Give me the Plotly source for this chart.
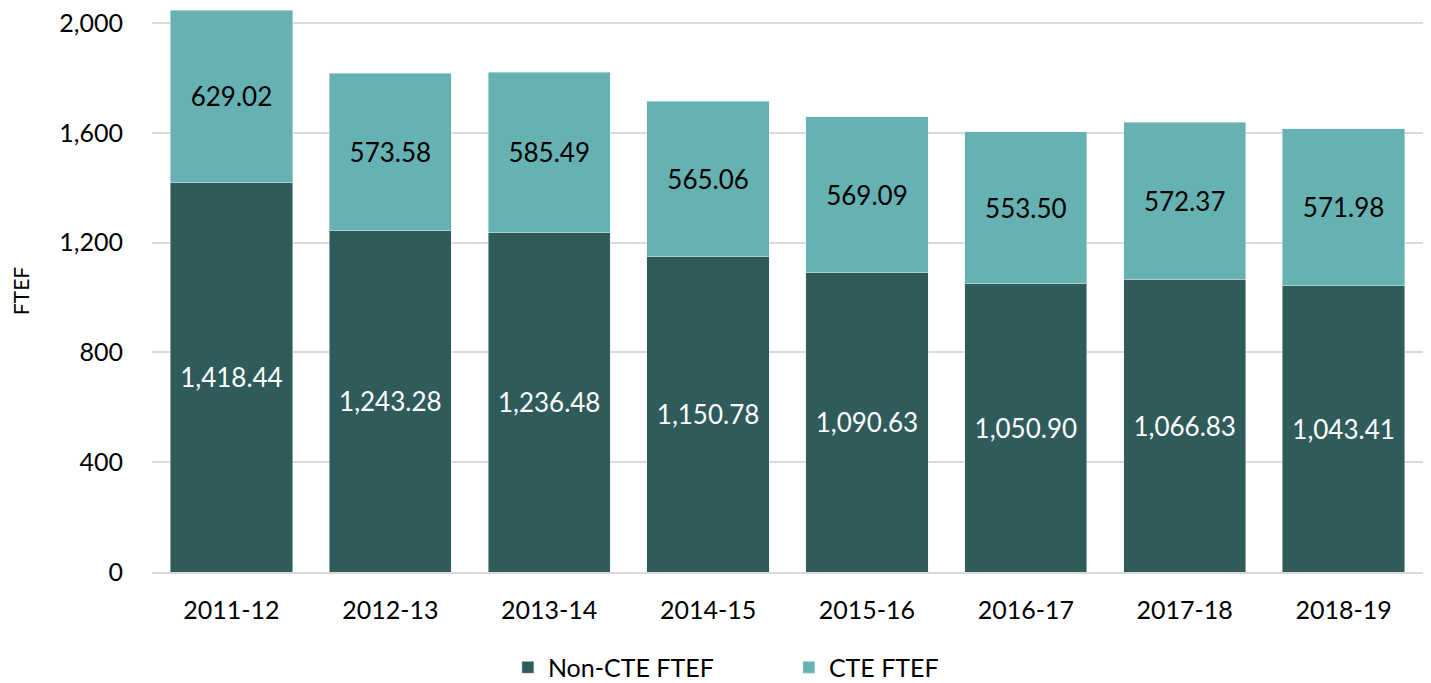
import plotly.graph_objects as go

years = ["2011-12", "2012-13", "2013-14", "2014-15", "2015-16", "2016-17", "2017-18", "2018-19"]
non_cte = [1418.44, 1243.28, 1236.48, 1150.78, 1090.63, 1050.90, 1066.83, 1043.41]
cte = [629.02, 573.58, 585.49, 565.06, 569.09, 553.50, 572.37, 571.98]
y_ticks = [0, 400, 800, 1200, 1600, 2000]

FONT = "Lato, Carlito, Calibri, sans-serif"

fig = go.Figure()
fig.add_trace(go.Bar(
    x=years, y=non_cte, name="Non-CTE FTEF",
    marker=dict(color="#2F5B5B"),
    text=[f"{v:,.2f}" for v in non_cte], textposition="inside",
    insidetextanchor="middle", textangle=0,
    textfont=dict(color="white", size=26, family=FONT),
))
fig.add_trace(go.Bar(
    x=years, y=cte, name="CTE FTEF",
    marker=dict(color="#66B2B2"),
    text=[f"{v:,.2f}" for v in cte], textposition="inside",
    insidetextanchor="middle", textangle=0,
    textfont=dict(color="black", size=26, family=FONT),
))

fig.update_layout(
    barmode="stack", bargap=0.23,
    width=1423, height=675,
    margin=dict(l=144, r=8, t=2, b=111, autoexpand=False),
    plot_bgcolor="white", paper_bgcolor="white",
    font=dict(family=FONT, size=25, color="black"),
    uniformtext=dict(mode=False),
    xaxis=dict(type="category", showgrid=False, showline=True, linecolor="#D9D9D9", linewidth=2,
               ticks="", tickfont=dict(size=25), ticklabelstandoff=15, automargin=False,
               ticklabeloverflow="allow"),
    yaxis=dict(range=[0, 2048], tickvals=y_ticks, tickformat=",d",
               showgrid=True, gridcolor="#D9D9D9", gridwidth=1.5,
               zeroline=False, ticks="", ticklabelstandoff=28, automargin=False,
               ticklabeloverflow="allow",
               title=dict(text="FTEF", font=dict(size=21), standoff=30),
               tickfont=dict(size=25)),
    legend=dict(orientation="h", x=0.28, xanchor="left", y=-0.17, yanchor="middle",
                font=dict(size=25), entrywidth=236, traceorder="normal"),
    showlegend=True,
)

fig.write_html("out.html")
